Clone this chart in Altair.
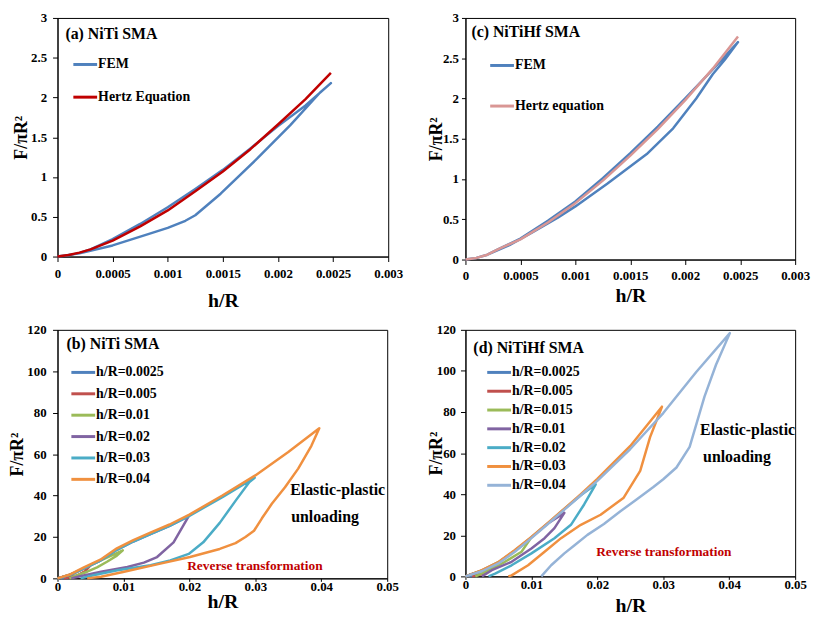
import altair as alt
import pandas as pd

FONT = "Liberation Serif"

# ---------------- (a) NiTi SMA : FEM vs Hertz ----------------
A_SERIES = ["FEM", "Hertz Equation"]
A_COLORS = ["#4F81BD", "#C00000"]
A_FEM_H = [0, 0.0001, 0.0002, 0.0003, 0.0005, 0.00075, 0.001, 0.00125, 0.0015, 0.00175, 0.002, 0.00225, 0.00248,
           0.00238, 0.00211, 0.00181, 0.00148, 0.00125, 0.00116, 0.001, 0.00083, 0.0005, 0.0002, 0]
A_FEM_F = [0, 0.015, 0.045, 0.09, 0.22, 0.41, 0.62, 0.85, 1.09, 1.36, 1.64, 1.90, 2.18,
           2.06, 1.65, 1.23, 0.79, 0.52, 0.45, 0.36, 0.285, 0.14, 0.04, 0]
A_HERTZ_H = [0, 0.0001, 0.0002, 0.0003, 0.0005, 0.00075, 0.001, 0.00125, 0.0015, 0.00175, 0.002, 0.00225, 0.00248]
A_HERTZ_F = [0, 0.02, 0.05, 0.09, 0.20, 0.38, 0.58, 0.82, 1.07, 1.35, 1.66, 1.98, 2.31]

# ---------------- (c) NiTiHf SMA : FEM vs Hertz ----------------
C_SERIES = ["FEM", "Hertz equation"]
C_COLORS = ["#4F81BD", "#D99694"]
C_FEM_H = [0, 0.0001, 0.0002, 0.0003, 0.0005, 0.00075, 0.001, 0.00125, 0.0015, 0.00175, 0.002, 0.00225, 0.00248,
           0.00236, 0.00225, 0.0021, 0.00189, 0.00165, 0.00129, 0.001, 0.00084, 0.0006, 0.0004, 0.0002, 0.0001, 0]
C_FEM_F = [0, 0.02, 0.06, 0.13, 0.26, 0.48, 0.72, 1.01, 1.32, 1.65, 2.00, 2.36, 2.70,
           2.48, 2.30, 2.00, 1.63, 1.31, 0.94, 0.66, 0.52, 0.33, 0.18, 0.06, 0.02, 0]
C_HERTZ_H = [0, 0.0001, 0.0002, 0.0003, 0.0005, 0.00075, 0.001, 0.00125, 0.0015, 0.00175, 0.002, 0.00225, 0.00248]
C_HERTZ_F = [0, 0.02, 0.06, 0.13, 0.25, 0.46, 0.70, 0.98, 1.29, 1.62, 1.98, 2.37, 2.77]

# ---------------- (b) NiTi SMA : loading/unloading loops ----------------
B_SERIES = ["h/R=0.0025", "h/R=0.005", "h/R=0.01", "h/R=0.02", "h/R=0.03", "h/R=0.04"]
B_COLORS = ["#4F81BD", "#C0504D", "#9BBB59", "#8064A2", "#4BACC6", "#F0903F"]
B_H = [
    [0, 0.001, 0.0025, 0.002, 0.0012, 0.0005],
    [0, 0.002, 0.004, 0.005, 0.0042, 0.003, 0.002, 0.001],
    [0, 0.002, 0.004, 0.0065, 0.0099, 0.009, 0.0075, 0.006, 0.0045, 0.003, 0.0018],
    [0, 0.002, 0.004, 0.0065, 0.009, 0.0115, 0.014, 0.017, 0.0199,
     0.0176, 0.0151, 0.0131, 0.0106, 0.0066, 0.0031, 0.0021],
    [0, 0.002, 0.004, 0.0065, 0.009, 0.0115, 0.014, 0.017, 0.02, 0.025, 0.0299,
     0.0291, 0.0271, 0.0246, 0.0221, 0.0199, 0.0171, 0.0141, 0.0091, 0.0056, 0.0035],
    [0, 0.002, 0.004, 0.0065, 0.009, 0.0115, 0.014, 0.017, 0.02, 0.025, 0.03, 0.035, 0.0397,
     0.0385, 0.0365, 0.0345, 0.0325, 0.031, 0.0298, 0.0285, 0.027, 0.0246, 0.0201, 0.0156, 0.0101, 0.0066, 0.0045],
]
B_F = [
    [0, 0.8, 2.5, 1.2, 0.4, 0],
    [0, 1.8, 4.8, 6.2, 3.5, 1.5, 0.5, 0],
    [0, 1.8, 4.8, 8.6, 13.5, 11, 8, 5.3, 3.2, 1.5, 0],
    [0, 1.8, 4.8, 8.6, 13.8, 17.8, 21.2, 25.3, 30,
     17.4, 10.3, 7.6, 5.5, 3.2, 0.8, 0],
    [0, 1.8, 4.8, 8.6, 13.8, 17.8, 21.2, 25.3, 30.2, 39.2, 48.6,
     46.5, 37.9, 26.8, 17.4, 11.8, 8.7, 6.3, 3.9, 1.6, 0],
    [0, 2, 5.3, 9, 14.5, 18.5, 22, 26, 30.8, 40, 49.7, 61, 72.5,
     64, 53, 44, 36, 29, 23, 20, 17, 14.2, 10.3, 7.1, 3.2, 0.8, 0],
]

# ---------------- (d) NiTiHf SMA : loading/unloading loops ----------------
D_SERIES = ["h/R=0.0025", "h/R=0.005", "h/R=0.015", "h/R=0.01", "h/R=0.02", "h/R=0.03", "h/R=0.04"]
D_COLORS = ["#4F81BD", "#C0504D", "#9BBB59", "#8064A2", "#4BACC6", "#F0903F", "#95B3D7"]
D_H = [
    [0, 0.0012, 0.0025, 0.0018, 0.001, 0.0005],
    [0, 0.0025, 0.005, 0.004, 0.0025, 0.001],
    [0, 0.0025, 0.005, 0.0075, 0.0098, 0.0085, 0.006, 0.003, 0.0015],
    [0, 0.0025, 0.005, 0.0075, 0.01, 0.0125, 0.015, 0.0135, 0.012, 0.01, 0.007, 0.004, 0.0025],
    [0, 0.0025, 0.005, 0.0075, 0.01, 0.0125, 0.015, 0.0175, 0.01975,
     0.018, 0.016, 0.0135, 0.01, 0.007, 0.0045, 0.0035],
    [0, 0.0025, 0.005, 0.0075, 0.01, 0.0125, 0.015, 0.0175, 0.02, 0.025, 0.0298,
     0.028, 0.0265, 0.024, 0.0205, 0.0175, 0.0145, 0.012, 0.0095, 0.007, 0.0065],
    [0, 0.0025, 0.005, 0.0075, 0.01, 0.0125, 0.015, 0.0175, 0.02, 0.025, 0.03, 0.035, 0.0401,
     0.038, 0.03625, 0.034, 0.032, 0.030, 0.0285, 0.026, 0.0235, 0.021, 0.0185, 0.0165, 0.015, 0.013, 0.0115],
]
D_F = [
    [0, 1.2, 2.8, 1.2, 0.3, 0],
    [0, 2.8, 6.8, 3.5, 1, 0],
    [0, 2.8, 6.8, 12.5, 18, 12, 7.1, 2.2, 0],
    [0, 2.8, 6.8, 12.5, 19, 25.8, 30.9, 23.5, 18.6, 13.6, 7.1, 3, 0],
    [0, 2.8, 6.8, 12.5, 19, 25.8, 32.8, 39.5, 44.8,
     35, 25.1, 18.6, 11.2, 5.4, 1.3, 0],
    [0, 3, 7, 12.8, 19.2, 26, 33, 40, 47.5, 63.5, 82.6,
     67.8, 51.4, 38.3, 30, 25.1, 18.6, 12, 5.4, 0.5, 0],
    [0, 2.5, 6.3, 12, 18.6, 25.5, 32.5, 39.5, 46.5, 62, 79.5, 99.5, 118.4,
     103, 87.5, 63, 53, 47.3, 43.5, 37.5, 31.7, 25.5, 20.2, 15, 11.2, 5.4, 0],
]

SMALL_X_TICKS = [0, 0.0005, 0.001, 0.0015, 0.002, 0.0025, 0.003]
SMALL_Y_TICKS = [0, 0.5, 1, 1.5, 2, 2.5, 3]
BIG_X_TICKS = [0, 0.01, 0.02, 0.03, 0.04, 0.05]
BIG_Y_TICKS = [0, 20, 40, 60, 80, 100, 120]


def build_df(names, hs, fs):
    rows = []
    for name, hh, ff in zip(names, hs, fs):
        for i, (x, y) in enumerate(zip(hh, ff)):
            rows.append({"series": name, "h": x, "F": y, "order": i})
    return pd.DataFrame(rows)


def text_layer(txt, x, y, size, color="black"):
    return alt.Chart(pd.DataFrame({"t": [txt]})).mark_text(
        align="left", baseline="middle", font=FONT, fontWeight="bold",
        fontSize=size, color=color
    ).encode(x=alt.value(x), y=alt.value(y), text="t:N")


def panel(df, names, colors, xdom, xvals, ydom, yvals, w, h, title, tpos,
          leg, notes, xax, yax):
    cscale = alt.Scale(domain=names, range=colors)
    lines = alt.Chart(df).mark_line(strokeWidth=2.5, strokeJoin="round").encode(
        x=alt.X("h:Q", scale=alt.Scale(domain=xdom, nice=False),
                axis=alt.Axis(values=xvals, format="~r", title="h/R",
                              tickSize=xax[0], labelPadding=xax[1], titlePadding=xax[2],
                              labelFlush=False, labelOverlap=False, titleFontSize=20)),
        y=alt.Y("F:Q", scale=alt.Scale(domain=ydom, nice=False),
                axis=alt.Axis(values=yvals, format="~r", title="F/πR²",
                              tickSize=yax[0], labelPadding=yax[1], titlePadding=yax[2],
                              labelOverlap=False, titleFontSize=18)),
        color=alt.Color("series:N", scale=cscale, legend=None),
        detail="series:N",
        order=alt.Order("order:Q"),
    )
    lx, ly0, ldy = leg
    leg_df = pd.DataFrame({"series": names, "i": list(range(len(names)))})
    leg_base = alt.Chart(leg_df).transform_calculate(ly=f"{ly0} + datum.i * {ldy}")
    leg_rule = leg_base.mark_rule(strokeWidth=3).encode(
        x=alt.value(lx), x2=alt.value(lx + 24),
        y=alt.Y("ly:Q", scale=None, axis=None),
        color=alt.Color("series:N", scale=cscale, legend=None),
    )
    leg_text = leg_base.mark_text(align="left", baseline="middle", font=FONT,
                                  fontWeight="bold", fontSize=14, color="black").encode(
        x=alt.value(lx + 25), y=alt.Y("ly:Q", scale=None, axis=None), text="series:N")
    layers = [lines, leg_rule, leg_text, text_layer(title, tpos[0], tpos[1], 16)]
    for n in notes:
        layers.append(text_layer(*n))
    return alt.layer(*layers).properties(width=w, height=h)


pa = panel(build_df(A_SERIES, [A_FEM_H, A_HERTZ_H], [A_FEM_F, A_HERTZ_F]), A_SERIES, A_COLORS,
           [0, 0.003], SMALL_X_TICKS, [0, 3], SMALL_Y_TICKS, 334, 241,
           "(a) NiTi SMA", (8, 16), (16, 47, 33), [], (5, 6, 10), (5, 6, 0))
pc = panel(build_df(C_SERIES, [C_FEM_H, C_HERTZ_H], [C_FEM_F, C_HERTZ_F]), C_SERIES, C_COLORS,
           [0, 0.003], SMALL_X_TICKS, [0, 3], SMALL_Y_TICKS, 333, 244,
           "(c) NiTiHf SMA", (6, 14), (25, 48, 41), [], (5, 5, 3), (4, 3, -3))
pb = panel(build_df(B_SERIES, B_H, B_F), B_SERIES, B_COLORS,
           [0, 0.05], BIG_X_TICKS, [0, 120], BIG_Y_TICKS, 333, 251,
           "(b) NiTi SMA", (9, 14), (14, 43, 21.6),
           [("Elastic-plastic", 235, 162, 16), ("unloading", 236, 189, 16),
            ("Reverse transformation", 131, 239, 13.5, "#C00000")],
           (3, -1, -2), (5, 6.5, 0))
pd_ = panel(build_df(D_SERIES, D_H, D_F), D_SERIES, D_COLORS,
            [0, 0.05], BIG_X_TICKS, [0, 120], BIG_Y_TICKS, 333, 249,
            "(d) NiTiHf SMA", (8, 18), (22, 43, 19),
            [("Elastic-plastic", 237, 101, 16), ("unloading", 240, 128, 16),
             ("Reverse transformation", 132, 224, 13.5, "#C00000")],
            (3, -1, 4), (5, 5, -9))

chart = alt.concat(pa, pc, pb, pd_, columns=2, spacing={"row": 71, "column": 78},
                   bounds="flush", align="each").resolve_scale(color="independent").properties(
    padding={"left": 0, "top": 0, "right": 0, "bottom": 0},
    background="white",
).configure_view(stroke="black", strokeWidth=1).configure_axis(
    grid=False, domainColor="black", tickColor="black", labelColor="black",
    titleColor="black", labelFont=FONT, titleFont=FONT, labelFontWeight="bold",
    titleFontWeight="bold", labelFontSize=13,
)

chart.save("out.html", embed_options={"renderer": "svg", "actions": False})
